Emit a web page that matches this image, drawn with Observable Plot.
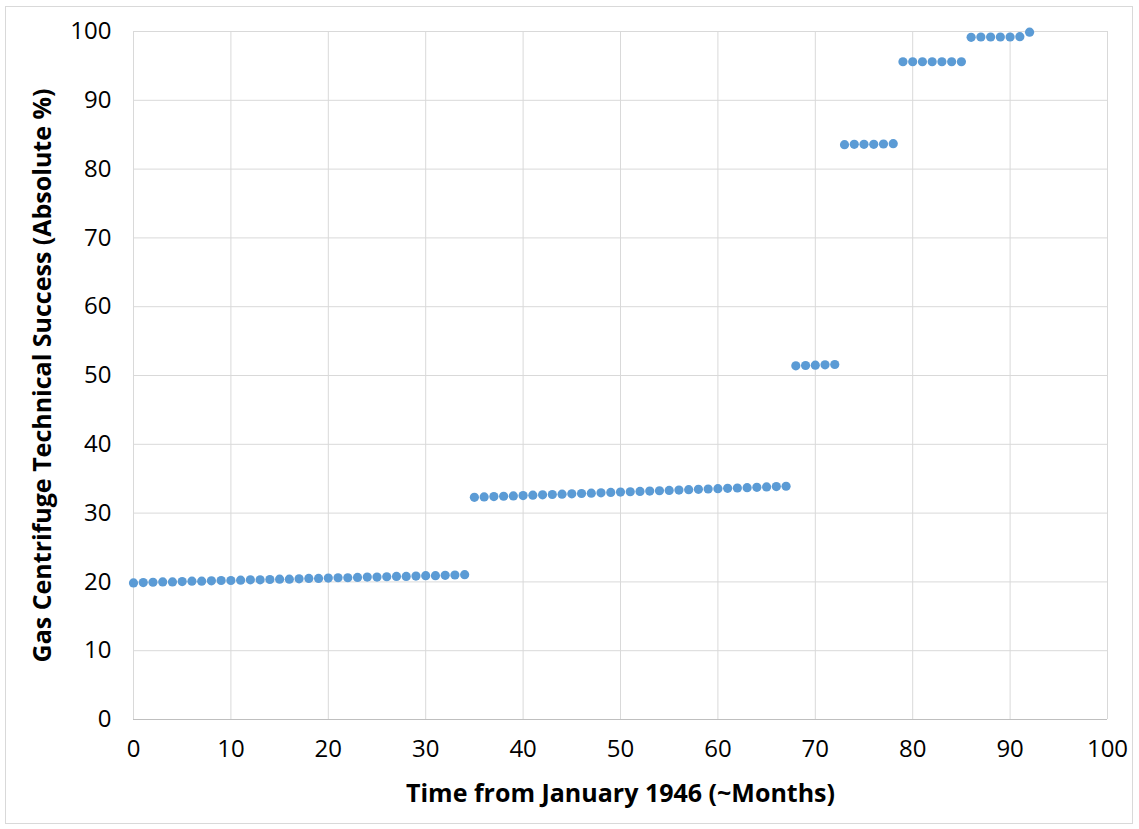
<!DOCTYPE html>
<html>
<head>
<meta charset="utf-8">
<script src="https://cdn.jsdelivr.net/npm/d3@7"></script>
<script src="https://cdn.jsdelivr.net/npm/@observablehq/plot@0.6"></script>
<style>
  html, body { margin: 0; padding: 0; background: #fff; }
  #wrap { position: relative; width: 1139px; height: 829px; overflow: hidden; }
  #border { position: absolute; left: 5px; top: 6px; width: 1128px; height: 818px; border: 1px solid #d9d9d9; box-sizing: border-box; }
  #chart { position: absolute; left: 0; top: 0; }
  #chart svg { font-family: "Open Sans", Lato, sans-serif; }
  #chart svg g[aria-label="x-axis tick label"] text,
  #chart svg g[aria-label="y-axis tick label"] text { font-size: 24px; fill: #000; }
  #chart svg g[aria-label="x-axis label"] text,
  #chart svg g[aria-label="y-axis label"] text { font-size: 25px; font-weight: bold; fill: #000; }
</style>
</head>
<body>
<div id="wrap"><div id="border"></div><div id="chart"></div></div>
<script>
// Data
const months = [
  0,1,2,3,4,5,6,7,8,9,10,11,12,13,14,15,16,17,18,19,20,21,22,23,24,25,26,27,28,29,30,31,32,33,34,
  35,36,37,38,39,40,41,42,43,44,45,46,47,48,49,50,51,52,53,54,55,56,57,58,59,60,61,62,63,64,65,66,67,
  68,69,70,71,72,
  73,74,75,76,77,78,
  79,80,81,82,83,84,85,
  86,87,88,89,90,91,92
];
const success = [
  19.85,19.9,19.95,20.0,20.0,20.05,20.1,20.1,20.15,20.2,20.2,20.25,20.3,20.3,20.35,20.4,20.4,20.45,20.5,20.5,20.55,20.6,20.6,20.65,20.7,20.7,20.75,20.8,20.8,20.85,20.9,20.9,20.95,21.0,21.05,
  32.3,32.35,32.4,32.45,32.5,32.55,32.6,32.65,32.7,32.75,32.8,32.85,32.9,32.95,33.0,33.05,33.1,33.15,33.2,33.25,33.3,33.35,33.4,33.45,33.5,33.55,33.6,33.65,33.7,33.75,33.8,33.85,33.9,
  51.4,51.45,51.5,51.55,51.6,
  83.55,83.6,83.6,83.6,83.65,83.7,
  95.6,95.6,95.6,95.6,95.6,95.6,95.6,
  99.15,99.2,99.2,99.2,99.2,99.25,99.9
];
const xTicks = [0,10,20,30,40,50,60,70,80,90,100];
const yTicks = [0,10,20,30,40,50,60,70,80,90,100];
const xTitle = "Time from January 1946 (~Months)";
const yTitle = "Gas Centrifuge Technical Success (Absolute %)";

const data = months.map((m, i) => ({month: m, value: success[i]}));

const chart = Plot.plot({
  width: 1139,
  height: 829,
  marginLeft: 133,
  marginRight: 32,
  marginTop: 31,
  marginBottom: 110,
  x: {domain: [0, 100], ticks: xTicks},
  y: {domain: [0, 100], ticks: yTicks},
  marks: [
    Plot.gridX(xTicks, {stroke: "#d9d9d9", strokeOpacity: 1, strokeWidth: 1}),
    Plot.gridY(yTicks, {stroke: "#d9d9d9", strokeOpacity: 1, strokeWidth: 1}),
    Plot.ruleY([0], {stroke: "#bfbfbf", strokeWidth: 1}),
    Plot.axisX(xTicks, {tickSize: 0, tickPadding: 20, label: xTitle, labelAnchor: "center", labelArrow: "none", labelOffset: 82}),
    Plot.axisY(yTicks, {tickSize: 0, tickPadding: 22, label: yTitle, labelAnchor: "center", labelArrow: "none", labelOffset: 100}),
    Plot.dot(data, {x: "month", y: "value", r: 4.6, fill: "#5b9bd5", stroke: "none"})
  ]
});
document.getElementById("chart").appendChild(chart);
</script>
</body>
</html>
